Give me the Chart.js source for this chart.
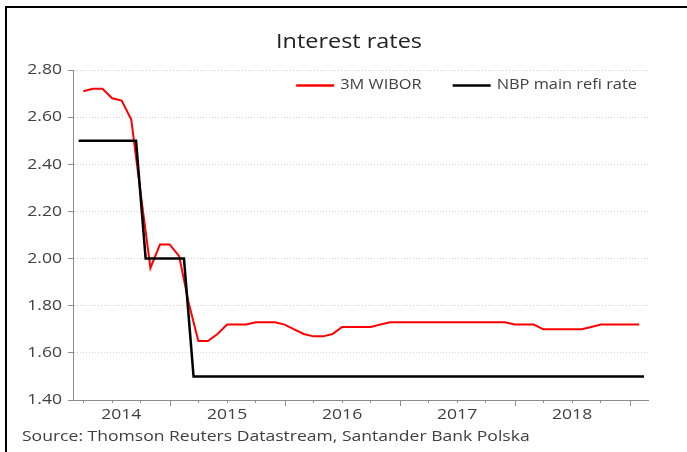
<!DOCTYPE html>
<html>
<head>
<meta charset="utf-8">
<script src="https://cdn.jsdelivr.net/npm/chart.js@4/dist/chart.umd.min.js"></script>
<style>
  html, body { margin: 0; padding: 0; background: #fff; }
  #wrap { position: relative; width: 687px; height: 452px; }
  #frame { position: absolute; left: 5px; top: 6px; width: 682px; height: 446px;
           border-top: 2px solid #000; border-left: 2px solid #000; box-sizing: border-box; pointer-events: none; }
  canvas { position: absolute; left: 0; top: 0; }
</style>
</head>
<body>
<div id="wrap">
  <canvas id="c" width="687" height="452"></canvas>
  <div id="frame"></div>
</div>
<script>
// ---- Data ----
const titleText = 'Interest rates';
const sourceText = 'Source: Thomson Reuters Datastream, Santander Bank Polska';
const seriesNames = ['3M WIBOR', 'NBP main refi rate'];

// 3M WIBOR, month-end observations, Mar 2014 .. Jan 2019
const wiborMonths = [
  '2014-03','2014-04','2014-05','2014-06','2014-07','2014-08','2014-09','2014-10','2014-11','2014-12',
  '2015-01','2015-02','2015-03','2015-04','2015-05','2015-06','2015-07','2015-08','2015-09','2015-10','2015-11','2015-12',
  '2016-01','2016-02','2016-03','2016-04','2016-05','2016-06','2016-07','2016-08','2016-09','2016-10','2016-11','2016-12',
  '2017-01','2017-02','2017-03','2017-04','2017-05','2017-06','2017-07','2017-08','2017-09','2017-10','2017-11','2017-12',
  '2018-01','2018-02','2018-03','2018-04','2018-05','2018-06','2018-07','2018-08','2018-09','2018-10','2018-11','2018-12',
  '2019-01'
];
const wiborValues = [
  2.71, 2.72, 2.72, 2.68, 2.67, 2.59, 2.27, 1.96, 2.06, 2.06,
  2.01, 1.81, 1.65, 1.65, 1.68, 1.72, 1.72, 1.72, 1.73, 1.73, 1.73, 1.72,
  1.70, 1.68, 1.67, 1.67, 1.68, 1.71, 1.71, 1.71, 1.71, 1.72, 1.73, 1.73,
  1.73, 1.73, 1.73, 1.73, 1.73, 1.73, 1.73, 1.73, 1.73, 1.73, 1.73, 1.72,
  1.72, 1.72, 1.70, 1.70, 1.70, 1.70, 1.70, 1.71, 1.72, 1.72, 1.72, 1.72,
  1.72
];

// NBP main refi rate, mid-month observations, Mar 2014 .. Feb 2019
const refiMonths = [
  '2014-03','2014-04','2014-05','2014-06','2014-07','2014-08','2014-09','2014-10','2014-11','2014-12',
  '2015-01','2015-02','2015-03','2015-04','2015-05','2015-06','2015-07','2015-08','2015-09','2015-10','2015-11','2015-12',
  '2016-01','2016-02','2016-03','2016-04','2016-05','2016-06','2016-07','2016-08','2016-09','2016-10','2016-11','2016-12',
  '2017-01','2017-02','2017-03','2017-04','2017-05','2017-06','2017-07','2017-08','2017-09','2017-10','2017-11','2017-12',
  '2018-01','2018-02','2018-03','2018-04','2018-05','2018-06','2018-07','2018-08','2018-09','2018-10','2018-11','2018-12',
  '2019-01','2019-02'
];
const refiValues = [
  2.50, 2.50, 2.50, 2.50, 2.50, 2.50, 2.50, 2.00, 2.00, 2.00,
  2.00, 2.00, 1.50, 1.50, 1.50, 1.50, 1.50, 1.50, 1.50, 1.50, 1.50, 1.50,
  1.50, 1.50, 1.50, 1.50, 1.50, 1.50, 1.50, 1.50, 1.50, 1.50, 1.50, 1.50,
  1.50, 1.50, 1.50, 1.50, 1.50, 1.50, 1.50, 1.50, 1.50, 1.50, 1.50, 1.50,
  1.50, 1.50, 1.50, 1.50, 1.50, 1.50, 1.50, 1.50, 1.50, 1.50, 1.50, 1.50,
  1.50, 1.50
];

const yearLabels = ['2014', '2015', '2016', '2017', '2018'];
const yTicks = [1.40, 1.60, 1.80, 2.00, 2.20, 2.40, 2.60, 2.80];
const xStart = '2014-02-28';
const xEnd = '2019-02-28';

// ---- helpers: date -> fractional year ----
function monthEnd(s) { const [y, m] = s.split('-').map(Number); return y + m / 12; }
function monthMid(s) { const [y, m] = s.split('-').map(Number); return y + (m - 0.5) / 12; }
function dayFrac(s) { const [y, m, d] = s.split('-').map(Number); return y + (m - 1) / 12 + d / 365; }

const xMin = dayFrac(xStart);
const xMax = dayFrac(xEnd);

const wiborData = wiborMonths.map((m, i) => ({ x: monthEnd(m), y: wiborValues[i] }));
const refiData = refiMonths.map((m, i) => ({ x: monthMid(m), y: refiValues[i] }));

// label positions: centre of visible part of each year
const labelTicks = yearLabels.map(l => {
  const y = Number(l);
  const a = Math.max(y, xMin), b = Math.min(y + 1, xMax);
  return { value: (a + b) / 2, label: l, kind: 'label' };
});
const quarterTicks = [];
for (let y = 2014; y <= 2019; y++) {
  for (let q = 0; q < 4; q++) {
    const v = y + q / 4;
    if (v >= xMin && v <= xMax) quarterTicks.push({ value: v, kind: q === 0 ? 'year' : 'quarter' });
  }
}

const FONT = "'Open Sans', 'DejaVu Sans', sans-serif";
const TEXT = '#404040';
const AXIS = '#8c8c8c';

// The reference typography is horizontally wide; emulate with a horizontal text scale.
const STRETCH = 1.17;
const canvas = document.getElementById('c');
const c2d = canvas.getContext('2d');
const origFill = c2d.fillText.bind(c2d);
const origMeasure = c2d.measureText.bind(c2d);
c2d.fillText = function (t, x, y, maxW) {
  this.save();
  this.translate(x, y);
  this.scale(STRETCH, 1);
  if (maxW === undefined) origFill(t, 0, 0); else origFill(t, 0, 0, maxW / STRETCH);
  this.restore();
};
c2d.measureText = function (t) {
  const m = origMeasure(t);
  return {
    width: m.width * STRETCH,
    actualBoundingBoxLeft: m.actualBoundingBoxLeft * STRETCH,
    actualBoundingBoxRight: m.actualBoundingBoxRight * STRETCH,
    actualBoundingBoxAscent: m.actualBoundingBoxAscent,
    actualBoundingBoxDescent: m.actualBoundingBoxDescent,
    fontBoundingBoxAscent: m.fontBoundingBoxAscent,
    fontBoundingBoxDescent: m.fontBoundingBoxDescent
  };
};

const legendPlugin = {
  id: 'insideLegend',
  afterDraw(chart) {
    const { ctx, chartArea } = chart;
    ctx.save();
    ctx.font = '14px ' + FONT;
    ctx.textBaseline = 'middle';
    ctx.textAlign = 'left';
    const lineW = 38, gapText = 6, gapItem = 31;
    const y = chartArea.top + 15;
    let x = chartArea.right - 11;
    const items = chart.data.datasets.slice().reverse();
    items.forEach(ds => {
      const w = ctx.measureText(ds.label).width;
      x -= w;
      ctx.fillStyle = TEXT;
      ctx.fillText(ds.label, x, y);
      x -= gapText;
      ctx.strokeStyle = ds.borderColor;
      ctx.lineWidth = 2.5;
      ctx.beginPath();
      ctx.moveTo(x - lineW, y + 0.5);
      ctx.lineTo(x, y + 0.5);
      ctx.stroke();
      x -= lineW + gapItem;
    });
    ctx.restore();
  }
};

const extrasPlugin = {
  id: 'extras',
  afterDraw(chart) {
    const sc = chart.scales.x;
    const { ctx, chartArea } = chart;
    ctx.save();
    // longer year ticks
    ctx.strokeStyle = AXIS;
    ctx.lineWidth = 1;
    quarterTicks.filter(t => t.kind === 'year').forEach(t => {
      const px = Math.round(sc.getPixelForValue(t.value)) + 0.5;
      ctx.beginPath();
      ctx.moveTo(px, sc.top);
      ctx.lineTo(px, sc.top + 6);
      ctx.stroke();
    });
    // title
    ctx.font = '20px ' + FONT;
    ctx.fillStyle = '#222';
    ctx.textAlign = 'center';
    ctx.textBaseline = 'middle';
    ctx.fillText(titleText, (chartArea.left + chartArea.right) / 2 - 11.5, 42);
    // source note
    ctx.font = '15px ' + FONT;
    ctx.fillStyle = TEXT;
    ctx.textAlign = 'left';
    ctx.textBaseline = 'middle';
    ctx.fillText(sourceText, 22, chart.height - 15);
    ctx.restore();
  }
};

new Chart(canvas, {
  type: 'line',
  data: {
    datasets: [
      { label: seriesNames[0], data: wiborData, borderColor: '#ff0000', backgroundColor: '#ff0000',
        borderWidth: 2, pointRadius: 0, tension: 0, order: 2 },
      { label: seriesNames[1], data: refiData, borderColor: '#000000', backgroundColor: '#000000',
        borderWidth: 2.5, pointRadius: 0, tension: 0, order: 1 }
    ]
  },
  options: {
    responsive: false,
    animation: false,
    devicePixelRatio: 1,
    layout: { padding: { left: 22, right: 39, top: 70, bottom: 25 } },
    plugins: {
      legend: { display: false },
      tooltip: { enabled: false },
      title: { display: false }
    },
    scales: {
      x: {
        type: 'linear', min: xMin, max: xMax,
        afterBuildTicks(scale) {
          scale.ticks = quarterTicks.concat(labelTicks).sort((a, b) => a.value - b.value)
            .map(t => ({ value: t.value, label: t.label || '', kind: t.kind }));
        },
        ticks: {
          autoSkip: false, maxRotation: 0, color: TEXT, padding: 3,
          font: { family: FONT, size: 15 },
          callback(value, index, ticks) { return ticks[index].label || ''; }
        },
        grid: {
          drawOnChartArea: false, drawTicks: true, tickLength: 3,
          tickColor: ctx => (ctx.tick && ctx.tick.kind === 'quarter') ? AXIS : 'rgba(0,0,0,0)'
        },
        border: { display: true, color: AXIS, width: 1 }
      },
      y: {
        min: 1.4, max: 2.8,
        afterBuildTicks(scale) { scale.ticks = yTicks.map(v => ({ value: v })); },
        afterFit(scale) { scale.width = 51; },
        ticks: {
          color: TEXT, padding: 6,
          font: { family: FONT, size: 15 },
          callback: v => Number(v).toFixed(2)
        },
        grid: { color: '#d4d4d4', lineWidth: 1, tickLength: 5, tickColor: AXIS },
        border: { display: true, color: AXIS, width: 1, dash: [1, 2] }
      }
    }
  },
  plugins: [legendPlugin, extrasPlugin]
});
</script>
</body>
</html>
